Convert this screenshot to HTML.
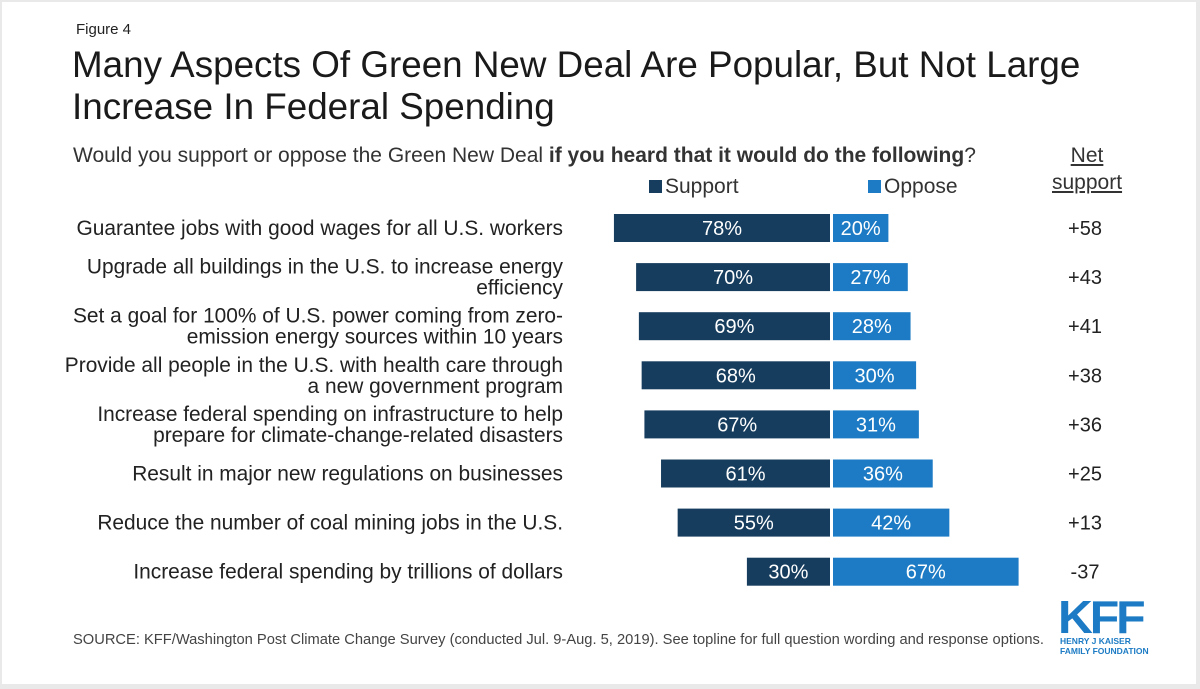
<!DOCTYPE html>
<html><head><meta charset="utf-8"><style>
body{margin:0;width:1200px;height:689px;background:#e9e9e9;font-family:"Liberation Sans",Arial,sans-serif;overflow:hidden}
#card{position:absolute;left:2px;top:2px;width:1194px;height:682px;background:#fff}
.t{position:absolute;color:#222;white-space:nowrap}
</style></head><body>
<div id="card"></div>
<div class="t" style="left:76px;top:21px;font-size:15px">Figure 4</div>
<div class="t" style="left:72px;top:44px;font-size:36.8px;line-height:42px;color:#1a1a1a">Many Aspects Of Green New Deal Are Popular, But Not Large<br>Increase In Federal Spending</div>
<div class="t" style="left:73px;top:144px;font-size:21px;color:#333">Would you support or oppose the Green New Deal <b>if you heard that it would do the following</b>?</div>
<div class="t" style="left:1052px;top:142px;font-size:21px;color:#333;text-align:center;line-height:27px"><u>Net</u><br><u>support</u></div>
<div class="t" style="left:649px;top:175px;font-size:21px;color:#333"><span style="display:inline-block;width:13px;height:13px;background:#163d5e;margin-right:3px"></span>Support</div>
<div class="t" style="left:868px;top:175px;font-size:21px;color:#333"><span style="display:inline-block;width:13px;height:13px;background:#1c7bc4;margin-right:3px"></span>Oppose</div>
<svg id="chart" width="1200" height="689" style="position:absolute;left:0;top:0"></svg>
<div class="t" style="left:73px;top:632px;font-size:14.7px;color:#444">SOURCE: KFF/Washington Post Climate Change Survey (conducted Jul. 9-Aug. 5, 2019). See topline for full question wording and response options.</div>
<div class="t" style="left:1058px;top:590px;font-size:46px;font-weight:bold;color:#1c7bc4;letter-spacing:-3px;transform:scaleX(1.05);transform-origin:left">KFF</div>
<div class="t" style="left:1060px;top:636px;font-size:8.5px;font-weight:bold;color:#1c7bc4;line-height:10px">HENRY J KAISER<br>FAMILY FOUNDATION</div>
<script>
const categories=[["Guarantee jobs with good wages for all U.S. workers"],["Upgrade all buildings in the U.S. to increase energy","efficiency"],["Set a goal for 100% of U.S. power coming from zero-","emission energy sources within 10 years"],["Provide all people in the U.S. with health care through","a new government program"],["Increase federal spending on infrastructure to help","prepare for climate-change-related disasters"],["Result in major new regulations on businesses"],["Reduce the number of coal mining jobs in the U.S."],["Increase federal spending by trillions of dollars"]];
const support=[78,70,69,68,67,61,55,30];
const oppose=[20,27,28,30,31,36,42,67];
const net=["+58","+43","+41","+38","+36","+25","+13","-37"];
const svg=document.getElementById('chart');const NS='http://www.w3.org/2000/svg';
const x0=830,gap=3,k=2.77;
const yc=i=>228+i*49.1;
const bh=28;
function mk(t,a){const e=document.createElementNS(NS,t);for(const q in a)e.setAttribute(q,a[q]);svg.appendChild(e);return e;}
categories.forEach((c,i)=>{
 const y=yc(i);
 const ws=support[i]*k, wo=oppose[i]*k;
 const r1=mk('rect',{x:x0-ws,y:y-bh/2,width:ws,height:bh,fill:'#163d5e'});
 
 
 const r2=mk('rect',{x:x0+gap,y:y-bh/2,width:wo,height:bh,fill:'#1c7bc4'});
 
 
 const t1=mk('text',{x:x0-ws/2,y:y+7,'text-anchor':'middle','font-size':20,fill:'#fff','font-family':'Liberation Sans, sans-serif'});t1.textContent=support[i]+'%';
 
 
 const t2=mk('text',{x:x0+gap+wo/2,y:y+7,'text-anchor':'middle','font-size':20,fill:'#fff','font-family':'Liberation Sans, sans-serif'});t2.textContent=oppose[i]+'%';
 
 
 const t3=mk('text',{x:1085,y:y+7,'text-anchor':'middle','font-size':20,fill:'#222','font-family':'Liberation Sans, sans-serif'});t3.textContent=net[i];
 
 
 c.forEach((ln,j)=>{
  const yy=y+7+(j-(c.length-1)/2)*21;
  const tl=mk('text',{x:563,y:yy,'text-anchor':'end','font-size':20.9,fill:'#222','font-family':'Liberation Sans, sans-serif'});tl.textContent=ln;
  
  
 });
});
</script>
</body></html>
